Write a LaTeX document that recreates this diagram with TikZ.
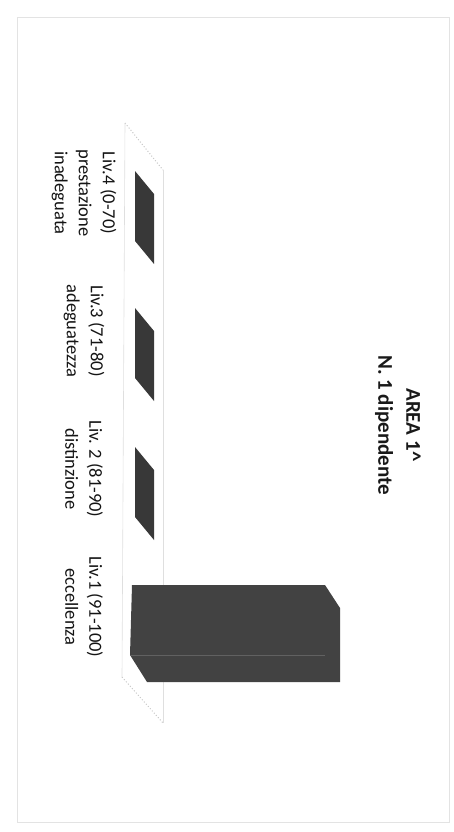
\documentclass[tikz,border=0pt]{standalone}
\usepackage{fontspec}
\setmainfont{Carlito}
\usepackage{tikz}
\usetikzlibrary{positioning}
\tikzstyle{barface}   = [fill=black!78, draw=none]
\tikzstyle{floorline} = [gray!25, line width=0.6pt]
\tikzstyle{floordots} = [gray!45, dotted, line width=1pt]
\tikzstyle{catlabel}  = [rotate=-90, align=center, text=black!92, inner sep=0pt,
                         font=\fontsize{18.5}{24}\selectfont]
\tikzstyle{titlelabel} = [rotate=-90, align=center, text=black!90, inner sep=0pt,
                         font=\fontsize{21}{28}\selectfont\bfseries]

\begin{document}
\begin{tikzpicture}[x=1pt,y=-1pt]
        \useasboundingbox (0,0) rectangle (454,832);
        \draw[gray!22] (17,17) rectangle (449,822);
        % floor of the chart
        \draw[floordots] (125,123) -- (163,170);
        \draw[floordots] (122,677) -- (163,723);
        \draw[floorline] (125,123) -- (122,677);
        \draw[floorline] (163,170) -- (163,723);
        \foreach \n/\y in {4/171, 3/308, 2/447}
        {
            \fill[barface] (135,\y) -- (154,\y+23) -- (154,\y+93) -- (135,\y+70) -- cycle;
            \coordinate (B\n) at (144,\y+46);
        }
        \fill[barface, fill=black!74] (132,585) -- (325,585) -- (340,608) -- (340,682)
            -- (147,682) -- (130,655) -- cycle;
        \draw[black!62, line width=0.5pt] (131,655) -- (325,655);
        \coordinate (B1) at (236,633);
        % category labels
        \foreach \n/\y/\t in {4/193/{Liv.4 (0-70)\\prestazione\\inadeguata},
                              3/331/{Liv.3 (71-80)\\adeguatezza},
                              2/469/{Liv. 2 (81-90)\\distinzione},
                              1/607/{Liv.1 (91-100)\\eccellenza}}
        {
            \node[catlabel] (L\n) at (84,\y) {\t};
        }
        \node[titlelabel] (T) at (398,425) {AREA 1\textasciicircum\\N. 1 dipendente};
    \end{tikzpicture}
\end{document}
